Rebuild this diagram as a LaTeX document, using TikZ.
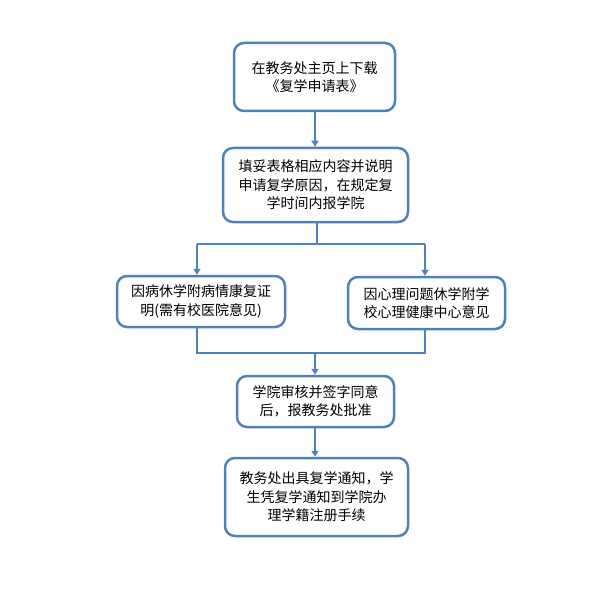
\documentclass[tikz,border=0pt]{standalone}
\usepackage{fontspec}
\usepackage{xcolor}
\usetikzlibrary{arrows.meta}
\newfontfamily\cjk{Noto Sans CJK SC}
\definecolor{boxblue}{HTML}{4F81BD}
\tikzset{
  stagebox/.style={draw=boxblue, line width=2.5pt, rounded corners=10pt,
    align=center, inner sep=0pt,
    font=\cjk\fontsize{14}{18.5}\selectfont},
  flow/.style={draw=boxblue, line width=1.6pt}
}

\begin{document}
\begin{tikzpicture}[x=1pt,y=-1pt,>={Triangle[length=6pt,width=7pt]}]
\useasboundingbox (0,0) rectangle (592,591);
\node[stagebox, minimum width=161pt, minimum height=68pt] (download) at (314.5,77) {在教务处主页上下载\\《复学申请表》};
\node[stagebox, minimum width=185pt, minimum height=74pt] (fill) at (315.5,185) {填妥表格相应内容并说明\\申请复学原因，在规定复\\学时间内报学院};
\node[stagebox, minimum width=168pt, minimum height=51pt] (ill) at (201,301.5) {因病休学附病情康复证\\明(需有校医院意见)};
\node[stagebox, minimum width=157pt, minimum height=52pt] (psy) at (426.5,303) {因心理问题休学附学\\校心理健康中心意见};
\node[stagebox, minimum width=157pt, minimum height=51pt] (approve) at (315.5,401.5) {学院审核并签字同意\\后，报教务处批准};
\node[stagebox, minimum width=183pt, minimum height=78pt] (notice) at (316.5,497) {教务处出具复学通知，学\\生凭复学通知到学院办\\理学籍注册手续};

\coordinate (splitL) at (197,244);
\coordinate (splitR) at (425,244);
\coordinate (joinL) at (197,353);
\coordinate (joinR) at (425,353);
\coordinate (joinM) at (315,353);

\draw[flow,->] (download.south -| joinM) -- (fill.north -| joinM);
\draw[flow] (fill.south -| 317,0) -- (splitL -| 317,0);
\draw[flow] (splitL) -- (splitR);
\draw[flow,->] (splitL) -- (ill.north -| splitL);
\draw[flow,->] (splitR) -- (psy.north -| splitR);
\draw[flow] (ill.south -| joinL) -- (joinL) -- (joinR) -- (psy.south -| joinR);
\draw[flow,->] (joinM) -- (approve.north -| joinM);
\draw[flow,->] (approve.south -| joinM) -- (notice.north -| joinM);
\end{tikzpicture}
\end{document}
